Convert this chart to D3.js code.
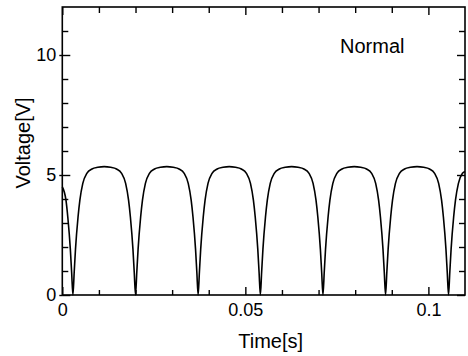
<!DOCTYPE html>
<html>
<head>
<meta charset="utf-8">
<script src="https://cdn.jsdelivr.net/npm/d3@7"></script>
<style>
  html, body { margin: 0; padding: 0; background: #fff; }
  svg { display: block; font-family: "Liberation Sans", Arial, sans-serif; }
</style>
</head>
<body>
<svg id="chart" width="468" height="356"></svg>
<script>
// ---- data ----
const timeS = [
  0.0000, 0.0010, 0.0015, 0.0022, 0.00255, 0.0029,
  0.00325, 0.0036, 0.0043, 0.0048, 0.0056, 0.0067, 0.0081, 0.0097, 0.01145,
  0.0132, 0.0148, 0.0162, 0.0173, 0.0181, 0.0186, 0.0193, 0.01965, 0.0200,
  0.02035, 0.0207, 0.0214, 0.0219, 0.0227, 0.0238, 0.0252, 0.0268, 0.02855,
  0.0303, 0.0319, 0.0333, 0.0344, 0.0352, 0.0357, 0.0364, 0.03675, 0.0371,
  0.03745, 0.0378, 0.0385, 0.0390, 0.0398, 0.0409, 0.0423, 0.0439, 0.0456,
  0.0473, 0.0489, 0.0503, 0.0514, 0.0522, 0.0527, 0.0534, 0.05375, 0.0541,
  0.05445, 0.0548, 0.0555, 0.0560, 0.0568, 0.0579, 0.0593, 0.0609, 0.06265,
  0.0644, 0.0660, 0.0674, 0.0685, 0.0693, 0.0698, 0.0705, 0.07085, 0.0712,
  0.07155, 0.0719, 0.0726, 0.0731, 0.0739, 0.0750, 0.0764, 0.0780, 0.07975,
  0.0815, 0.0831, 0.0845, 0.0856, 0.0864, 0.0869, 0.0876, 0.08795, 0.0883,
  0.08865, 0.0890, 0.0897, 0.0902, 0.0910, 0.0921, 0.0935, 0.0951, 0.0969,
  0.0987, 0.1003, 0.1017, 0.1028, 0.1036, 0.1041, 0.1048, 0.10515, 0.1055,
  0.10585, 0.1062, 0.1069, 0.1074, 0.1082, 0.1093, 0.1100
];
const voltageV = [
  4.50, 3.95, 3.25, 1.90, 0.95, 0.00,
  0.95, 1.90, 3.25, 3.95, 4.65, 5.07, 5.25, 5.32, 5.35,
  5.32, 5.25, 5.07, 4.65, 3.95, 3.25, 1.90, 0.95, 0.00,
  0.95, 1.90, 3.25, 3.95, 4.65, 5.07, 5.25, 5.32, 5.35,
  5.32, 5.25, 5.07, 4.65, 3.95, 3.25, 1.90, 0.95, 0.00,
  0.95, 1.90, 3.25, 3.95, 4.65, 5.07, 5.25, 5.32, 5.35,
  5.32, 5.25, 5.07, 4.65, 3.95, 3.25, 1.90, 0.95, 0.00,
  0.95, 1.90, 3.25, 3.95, 4.65, 5.07, 5.25, 5.32, 5.35,
  5.32, 5.25, 5.07, 4.65, 3.95, 3.25, 1.90, 0.95, 0.00,
  0.95, 1.90, 3.25, 3.95, 4.65, 5.07, 5.25, 5.32, 5.35,
  5.32, 5.25, 5.07, 4.65, 3.95, 3.25, 1.90, 0.95, 0.00,
  0.95, 1.90, 3.25, 3.95, 4.65, 5.07, 5.25, 5.32, 5.35,
  5.32, 5.25, 5.07, 4.65, 3.95, 3.25, 1.90, 0.95, 0.00,
  0.95, 1.90, 3.25, 3.95, 4.65, 5.07, 5.15
];
const xMajorTicks = [0, 0.05, 0.1];
const xMajorLabels = ["0", "0.05", "0.1"];
const xMinorTicks = [0.01, 0.02, 0.03, 0.04, 0.06, 0.07, 0.08, 0.09];
const yMajorTicks = [0, 5, 10];
const yMajorLabels = ["0", "5", "10"];
const yMinorTicks = [1, 2, 3, 4, 6, 7, 8, 9, 11];
const xDomain = [0, 0.11];
const yDomain = [0, 12];
const xTitle = "Time[s]";
const yTitle = "Voltage[V]";
const legendText = "Normal";

// ---- layout ----
const mLeft = 62.3, mRight = 465, mTop = 7, mBottom = 295;
const svg = d3.select("#chart");
const x = d3.scaleLinear().domain(xDomain).range([mLeft, mRight]);
const y = d3.scaleLinear().domain(yDomain).range([mBottom, mTop]);

const minorLen = 6, majorLen = 8;

// frame
svg.append("rect")
  .attr("x", mLeft).attr("y", mTop)
  .attr("width", mRight - mLeft).attr("height", mBottom - mTop)
  .attr("fill", "none").attr("stroke", "#000").attr("stroke-width", 1.6);

// axes using d3 axis generators (inward ticks)
function addAxis(gen, tx, ty, ticks, len, labels) {
  const g = svg.append("g").attr("transform", `translate(${tx},${ty})`)
    .call(gen.tickValues(ticks).tickSizeInner(-len).tickSizeOuter(0)
      .tickFormat(labels ? (d, i) => labels[i] : () => ""));
  g.select(".domain").remove();
  g.selectAll(".tick line").attr("stroke", "#000").attr("stroke-width", 1.4);
  g.selectAll(".tick text").attr("fill", "#000")
    .style("font-size", "18px").style("font-family", "'Liberation Sans', Arial, sans-serif");
  return g;
}
// bottom
addAxis(d3.axisBottom(x), 0, mBottom, xMinorTicks, minorLen - 1, null);
const gxb = addAxis(d3.axisBottom(x), 0, mBottom, xMajorTicks, majorLen, xMajorLabels);
gxb.selectAll(".tick text").attr("y", 8).attr("dy", "0.71em");
// top
addAxis(d3.axisTop(x), 0, mTop, xMinorTicks, minorLen, null);
addAxis(d3.axisTop(x), 0, mTop, xMajorTicks, majorLen, null);
// left
addAxis(d3.axisLeft(y), mLeft, 0, yMinorTicks, minorLen, null);
const gyl = addAxis(d3.axisLeft(y), mLeft, 0, yMajorTicks, majorLen, yMajorLabels);
gyl.selectAll(".tick text").attr("x", -6);
gyl.selectAll(".tick").append("line").attr("x1", 0).attr("x2", -3)
  .attr("stroke", "#000").attr("stroke-width", 1.4);
// right
addAxis(d3.axisRight(y), mRight, 0, yMinorTicks, minorLen, null);
addAxis(d3.axisRight(y), mRight, 0, yMajorTicks, majorLen, null);

// waveform
const pts = timeS.map((t, i) => [t, voltageV[i]]);
const line = d3.line()
  .x(d => x(d[0])).y(d => y(d[1]))
  .curve(d3.curveMonotoneX);
svg.append("path").datum(pts)
  .attr("d", line)
  .attr("fill", "none").attr("stroke", "#000").attr("stroke-width", 1.6)
  .attr("stroke-linejoin", "round");

// titles
svg.append("text")
  .attr("x", (mLeft + mRight) / 2 + 7).attr("y", 348)
  .attr("text-anchor", "middle")
  .style("font-size", "20px").attr("fill", "#000")
  .text(xTitle);
svg.append("text")
  .attr("transform", `translate(29.5,143) rotate(-90)`)
  .attr("text-anchor", "middle")
  .style("font-size", "20px").attr("fill", "#000")
  .text(yTitle);

// annotation
svg.append("text")
  .attr("x", 340).attr("y", 53)
  .style("font-size", "20px").attr("fill", "#000")
  .text(legendText);
</script>
</body>
</html>
